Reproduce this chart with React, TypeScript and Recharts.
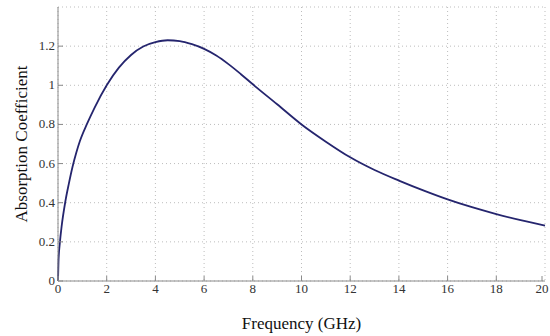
import { LineChart, Line, XAxis, YAxis, CartesianGrid } from 'recharts';

const freq = [0, 0.02, 0.08, 0.15, 0.3, 0.45, 0.6, 0.75, 0.9, 1.2, 1.5, 2, 2.5, 3, 3.5, 4, 4.5, 5, 5.5, 6, 6.5, 7, 7.5, 8, 9, 10, 11, 12, 13, 14, 15, 16, 17, 18, 19, 20];
const absorption = [0, 0.1, 0.2, 0.28, 0.405, 0.5, 0.585, 0.655, 0.715, 0.805, 0.885, 1.0, 1.09, 1.155, 1.198, 1.22, 1.23, 1.226, 1.21, 1.186, 1.152, 1.108, 1.058, 1.005, 0.903, 0.8, 0.712, 0.632, 0.567, 0.513, 0.463, 0.417, 0.377, 0.342, 0.311, 0.283];
const xTicks = [0, 2, 4, 6, 8, 10, 12, 14, 16, 18, 20];
const yTicks = [0, 0.2, 0.4, 0.6, 0.8, 1, 1.2];

const data = freq.map((f, i) => ({ f, a: absorption[i] }));

const AXIS = '#8a8a8a';
const FONT = 'Liberation Serif';

// labels outside, short tick marks pointing into the plot (matlab style)
const BottomTick = (props: any) => {
  const { x, y, payload } = props;
  const base = y - 2;
  return (
    <g>
      <line x1={x} y1={base} x2={x} y2={base - 5} stroke={AXIS} />
      <text x={x} y={y} dy={10} textAnchor="middle" fill="#333" fontSize={13} fontFamily={FONT}>
        {payload.value}
      </text>
    </g>
  );
};

const LeftTick = (props: any) => {
  const { x, y, payload } = props;
  const base = x + 3;
  return (
    <g>
      <line x1={base} y1={y} x2={base + 5} y2={y} stroke={AXIS} />
      <text x={x} y={y} dy={4} textAnchor="end" fill="#333" fontSize={13} fontFamily={FONT}>
        {payload.value}
      </text>
    </g>
  );
};

const NoLabel = () => <g />;

export default function App() {
  return (
    <div style={{ position: 'absolute', left: 0, top: 0, background: '#fff' }}>
      <LineChart width={550} height={336} data={data} margin={{ top: 7, right: 5, bottom: 0, left: 0 }}>
        <CartesianGrid xAxisId="b" yAxisId="l" stroke="#bdbdbd" strokeDasharray="1 3" />
        <XAxis
          xAxisId="b"
          dataKey="f"
          type="number"
          domain={[0, 20]}
          ticks={xTicks}
          height={55}
          tickLine={false}
          tickSize={1}
          tickMargin={1}
          axisLine={{ stroke: AXIS }}
          tick={<BottomTick />}
          label={{
            value: 'Frequency (GHz)',
            position: 'insideBottom',
            offset: 7,
            style: { fontFamily: FONT, fontSize: 17, fill: '#111' },
          }}
        />
        <XAxis
          xAxisId="t"
          orientation="top"
          type="number"
          domain={[0, 20]}
          ticks={xTicks}
          allowDataOverflow
          mirror
          height={0}
          tick={NoLabel}
          tickSize={5}
          tickLine={{ stroke: AXIS }}
          axisLine={{ stroke: AXIS }}
        />
        <YAxis
          yAxisId="l"
          type="number"
          domain={[0, 1.4]}
          ticks={yTicks}
          width={58}
          tickLine={false}
          tickSize={1}
          tickMargin={2}
          axisLine={{ stroke: AXIS }}
          tick={<LeftTick />}
          label={{
            value: 'Absorption Coefficient',
            angle: -90,
            position: 'insideLeft',
            offset: 21,
            style: { textAnchor: 'middle', fontFamily: FONT, fontSize: 17, fill: '#111' },
          }}
        />
        <YAxis
          yAxisId="r"
          orientation="right"
          type="number"
          domain={[0, 1.4]}
          ticks={yTicks}
          allowDataOverflow
          mirror
          width={0}
          tick={NoLabel}
          tickSize={5}
          tickLine={{ stroke: AXIS }}
          axisLine={{ stroke: AXIS }}
        />
        <Line
          xAxisId="b"
          yAxisId="l"
          dataKey="a"
          type="monotone"
          stroke="#25256e"
          strokeWidth={1.8}
          dot={false}
          isAnimationActive={false}
        />
      </LineChart>
    </div>
  );
}
